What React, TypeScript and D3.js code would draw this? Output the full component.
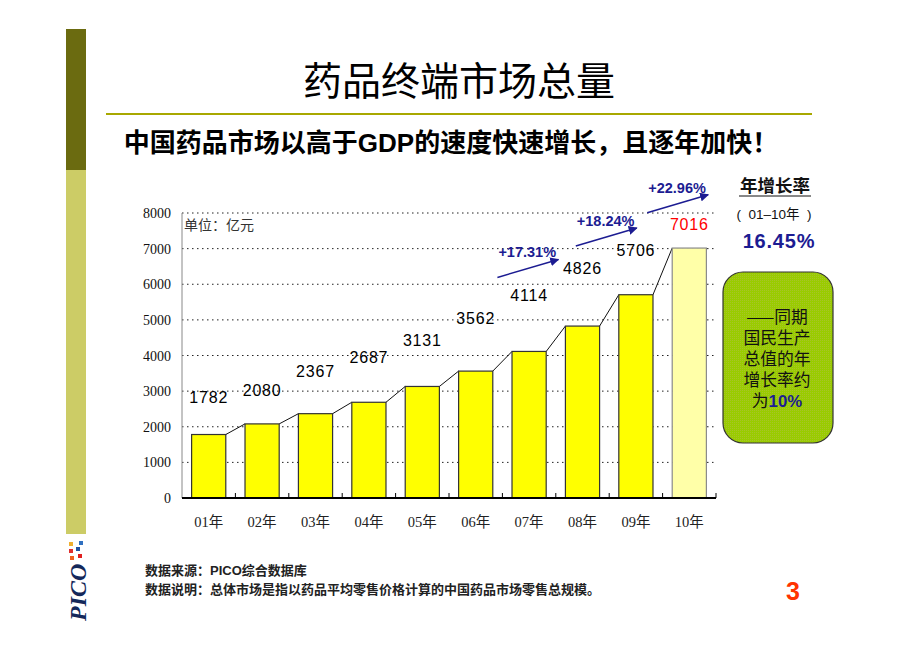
import React from "react";
import * as d3 from "d3";

const categories = ["01年", "02年", "03年", "04年", "05年", "06年", "07年", "08年", "09年", "10年"];
const values = [1782, 2080, 2367, 2687, 3131, 3562, 4114, 4826, 5706, 7016];
const yTicks = [0, 1000, 2000, 3000, 4000, 5000, 6000, 7000, 8000];
const growthLabels = ["+17.31%", "+18.24%", "+22.96%"];
const growthFrom = [6, 7, 8]; // arrows drawn above bars 07, 08, 09
const boxLines = ["——同期", "国民生产", "总值的年", "增长率约"];

// hand placement of annotations in the original (px)
const labelLift = [38, 34, 43, 45, 46, 53, 56, 58, 45, 24];
const arrowDx = [-5, 20, 38];
const arrowLift = [74, 80, 82];

const W = 920;
const H = 651;
const CJK = "'Noto Sans CJK SC', 'Noto Sans', sans-serif";
const SANS = "'Liberation Sans', Arial, 'Noto Sans CJK SC', sans-serif";
const SERIF = "'Liberation Serif', 'Times New Roman', 'Noto Sans CJK SC', serif";
const NAVY = "#1c1c92";

export default function App() {
  const left = 182;
  const right = 716;
  const top = 213;
  const bottom = 498;
  const x = d3.scaleBand<string>().domain(categories).range([left, right]).paddingInner(0.36).paddingOuter(0.18);
  const xb = d3.scaleBand<string>().domain(categories).range([left, right]);
  const y = d3.scaleLinear().domain([0, 8000]).range([bottom, top]);
  const bw = x.bandwidth();

  return (
    <svg width={W} height={H} viewBox={`0 0 ${W} ${H}`} style={{ position: "absolute", left: 0, top: 0, background: "#fff" }}>
      <defs>
        <marker id="arr" viewBox="0 0 10 10" refX="9" refY="5" markerWidth="6" markerHeight="6" orient="auto">
          <path d="M0,0 L10,5 L0,10 z" fill={NAVY} />
        </marker>
        <pattern id="gdots" width="2" height="2" patternUnits="userSpaceOnUse">
          <rect width="2" height="2" fill="#99cc00" />
          <rect width="1" height="1" fill="#a8c428" />
        </pattern>
      </defs>

      {/* left decorative bar */}
      <rect x={66} y={29} width={20} height={141} fill="#6b6b10" />
      <rect x={66} y={170} width={20} height={364} fill="#cccc66" />
      {/* logo */}
      <g>
        <rect x={69} y={542} width={4} height={4} fill="#f0b030" />
        <rect x={79} y={541} width={4} height={4} fill="#3070c0" />
        <rect x={69} y={549} width={4} height={4} fill="#e03030" />
        <rect x={76} y={547} width={4} height={4} fill="#2050a0" />
        <rect x={70} y={556} width={4} height={4} fill="#f06020" />
        <rect x={78} y={554} width={4} height={4} fill="#e02020" />
        <text transform="translate(86,621) rotate(-90)" fontFamily={SERIF} fontWeight="bold" fontStyle="italic" fontSize={24} fill="#14285a">PICO</text>
      </g>

      {/* title */}
      <text x={459} y={95} textAnchor="middle" fontFamily={CJK} fontSize={39} fill="#000">药品终端市场总量</text>
      <line x1={106} x2={812} y1={114} y2={114} stroke="#a8a800" strokeWidth={2} />
      <text x={451} y={152} textAnchor="middle" fontFamily={CJK} fontWeight="bold" fontSize={26} fill="#000">中国药品市场以高于<tspan fontFamily={SANS}>GDP</tspan>的速度快速增长，且逐年加快！</text>

      {/* gridlines */}
      {yTicks.filter((t) => t > 0).map((t) => (
        <line key={t} x1={left} x2={right} y1={y(t)} y2={y(t)} stroke="#222" strokeWidth={1} strokeDasharray="1.5,3.5" />
      ))}
      {/* y axis */}
      <line x1={left} x2={left} y1={top} y2={bottom} stroke="#888" strokeWidth={1} />
      {yTicks.map((t) => (
        <text key={t} x={171} y={y(t) + 5} textAnchor="end" fontFamily={SERIF} fontSize={14} fill="#111">{t}</text>
      ))}
      <text x={184} y={230} fontFamily={SERIF} fontSize={14} fill="#333">单位：亿元</text>

      {/* series lines */}
      {values.slice(0, -1).map((v, i) => (
        <line key={i} x1={(x(categories[i]) as number) + bw} y1={y(v)} x2={x(categories[i + 1]) as number} y2={y(values[i + 1])} stroke="#111" strokeWidth={1} />
      ))}
      {/* bars */}
      {values.map((v, i) => (
        <rect key={i} x={x(categories[i])} y={y(v)} width={bw} height={bottom - y(v)}
          fill={i === values.length - 1 ? "#ffffa8" : "#ffff00"}
          stroke={i === values.length - 1 ? "#8a8a8a" : "#333"} strokeWidth={1.2} />
      ))}
      {/* x axis */}
      <line x1={left} x2={right} y1={bottom} y2={bottom} stroke="#000" strokeWidth={2} />
      {categories.map((c, i) => (
        <line key={i} x1={(xb(c) as number) + xb.bandwidth()} x2={(xb(c) as number) + xb.bandwidth()} y1={bottom} y2={bottom - 5} stroke="#000" strokeWidth={1} />
      ))}
      {categories.map((c) => (
        <text key={c} x={(xb(c) as number) + xb.bandwidth() / 2} y={527} textAnchor="middle" fontFamily={SERIF} fontSize={14.5} fill="#222">{c}</text>
      ))}

      {/* value labels */}
      {values.map((v, i) => (
        <text key={i} x={(x(categories[i]) as number) + bw / 2} y={y(v) - labelLift[i] + 6} textAnchor="middle"
          fontFamily={SANS} fontSize={16} letterSpacing={0.8} fill={i === values.length - 1 ? "#ff0000" : "#000"}>{v}</text>
      ))}

      {/* growth arrows */}
      {growthFrom.map((b, k) => {
        const x0 = (xb(categories[b]) as number) + arrowDx[k];
        const y0 = y(values[b]) - arrowLift[k];
        const x1 = x0 + 61;
        const y1 = y0 - 18;
        return (
          <g key={k}>
            <line x1={x0} y1={y0} x2={x1} y2={y1} stroke={NAVY} strokeWidth={1.5} markerEnd="url(#arr)" />
            <text x={x0 + 1} y={y1 - 2} fontFamily={SANS} fontWeight="bold" fontSize={14.5} fill={NAVY}>{growthLabels[k]}</text>
          </g>
        );
      })}

      {/* right annotation */}
      <text x={775} y={192} textAnchor="middle" fontFamily={CJK} fontWeight="bold" fontSize={17.5} fill="#111">年增长率</text>
      <line x1={739} x2={811} y1={196} y2={196} stroke="#111" strokeWidth={1} />
      <text x={774} y={219} textAnchor="middle" fontFamily={SANS} fontSize={13.5} fill="#111" xmlSpace="preserve">(  01–10年  )</text>
      <text x={779} y={248} textAnchor="middle" fontFamily={SANS} fontWeight="bold" fontSize={20} letterSpacing={0.8} fill={NAVY}>16.45%</text>

      <rect x={723} y={272} width={110} height={171} rx={20} ry={20} fill="url(#gdots)" stroke="#333" strokeWidth={1.2} />
      {boxLines.map((t, i) => (
        <text key={i} x={777} y={323 + i * 21} textAnchor="middle" fontFamily={CJK} fontSize={16.8} fill="#111">{t}</text>
      ))}
      <text x={777} y={407} textAnchor="middle" fontFamily={CJK} fontSize={16.8} fill="#111">为<tspan fontFamily={SANS} fontWeight="bold" fill={NAVY}>10%</tspan></text>

      {/* footer */}
      <text x={145} y={575} fontFamily={CJK} fontWeight="bold" fontSize={13} fill="#222">数据来源：<tspan fontFamily={SANS}>PICO</tspan>综合数据库</text>
      <text x={145} y={594} fontFamily={CJK} fontWeight="bold" fontSize={13} fill="#222">数据说明：总体市场是指以药品平均零售价格计算的中国药品市场零售总规模。</text>
      <text x={793} y={600} textAnchor="middle" fontFamily="'Liberation Sans Narrow', 'Liberation Sans', sans-serif" fontWeight="bold" fontSize={25} fill="#ff3300">3</text>
    </svg>
  );
}
